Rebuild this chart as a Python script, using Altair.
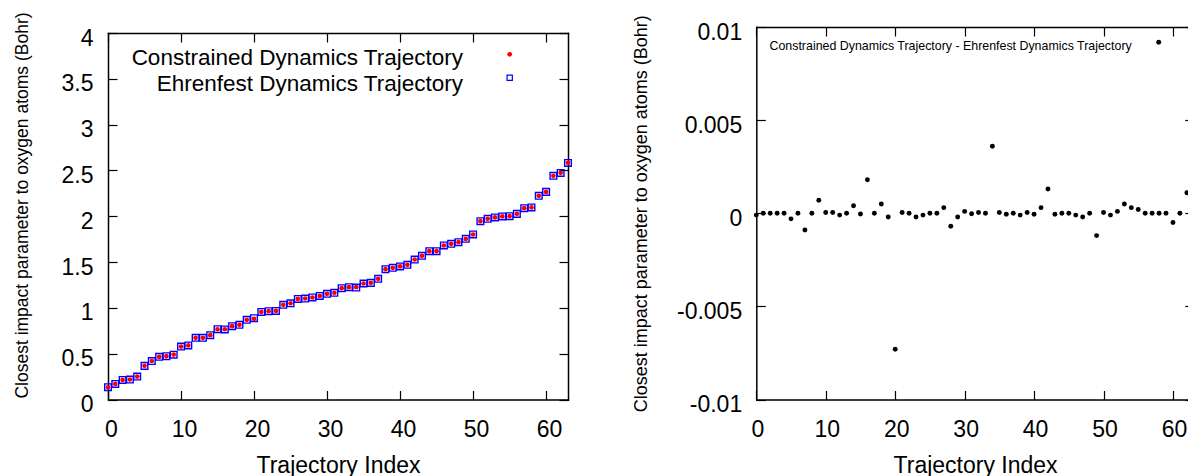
import altair as alt
import pandas as pd

# ---------------- data ----------------
trajectory_index = list(range(64))

constrained = [0.134, 0.170, 0.214, 0.218, 0.250, 0.367, 0.420, 0.465, 0.473, 0.490,
               0.578, 0.590, 0.673, 0.673, 0.702, 0.767, 0.767, 0.800, 0.815, 0.870,
               0.880, 0.956, 0.964, 0.967, 1.033, 1.050, 1.098, 1.102, 1.113, 1.130,
               1.153, 1.164, 1.215, 1.226, 1.226, 1.266, 1.273, 1.317, 1.422, 1.437,
               1.452, 1.470, 1.528, 1.568, 1.619, 1.619, 1.681, 1.699, 1.717, 1.753,
               1.801, 1.946, 1.972, 1.987, 1.998, 2.001, 2.026, 2.088, 2.096, 2.223,
               2.266, 2.441, 2.474, 2.583]

ehrenfest = [0.134, 0.170, 0.214, 0.218, 0.250, 0.367, 0.420, 0.466, 0.473, 0.489,
             0.578, 0.590, 0.673, 0.673, 0.702, 0.767, 0.765, 0.800, 0.815, 0.870,
             0.887, 0.956, 0.964, 0.967, 1.033, 1.050, 1.098, 1.102, 1.114, 1.130,
             1.153, 1.164, 1.215, 1.226, 1.222, 1.266, 1.273, 1.317, 1.422, 1.437,
             1.452, 1.470, 1.527, 1.568, 1.619, 1.619, 1.681, 1.699, 1.717, 1.754,
             1.801, 1.946, 1.972, 1.987, 1.998, 2.001, 2.026, 2.088, 2.096, 2.223,
             2.266, 2.441, 2.473, 2.582]

difference = [-0.0001, 0.0, 0.0, 0.0, 0.0, -0.0003, 0.0, -0.0009, 0.0, 0.0007,
              0.00004, 0.00004, -0.0001, 0.0, 0.0004, -0.00004, 0.0018, 0.0, 0.0005, -0.0002,
              -0.0073, 0.00004, 0.0, -0.0002, -0.0001, 0.0, 0.0, 0.0003, -0.0007, -0.0002,
              0.0001, -0.00003, 0.00004, 0.0, 0.0036, 0.00004, -0.00005, 0.0, -0.0001, 0.00004,
              -0.00005, 0.0003, 0.0013, -0.00005, 0.0, 0.0, -0.0001, -0.0002, 0.0, -0.0012,
              0.00004, -0.0001, 0.0001, 0.0005, 0.0003, 0.0002, 0.0, 0.0, 0.0, 0.0,
              -0.0005, 0.0, 0.0011, 0.0011]

x_ticks = [0, 10, 20, 30, 40, 50, 60]
left_y_ticks = [0, 0.5, 1, 1.5, 2, 2.5, 3, 3.5, 4]
right_y_ticks = [-0.01, -0.005, 0, 0.005, 0.01]

legend_left = ["Constrained Dynamics Trajectory", "Ehrenfest Dynamics Trajectory"]
legend_right = ["Constrained Dynamics Trajectory - Ehrenfest Dynamics Trajectory"]
y_title = "Closest impact parameter to oxygen atoms (Bohr)"
x_title = "Trajectory Index"

# ---------------- layout / style ----------------
FONT = "Liberation Sans"
W = 1080            # drawing area (both panels side by side); page width limits it
H = 372.5
L_X0, L_X1 = 0, 460          # left panel horizontal extent
L_TOP = 6                    # left panel frame top
R_X0, R_X1 = 648.3, 1085.8   # right panel horizontal extent (right edge runs off the page)
TICK = 9
FS_TICK = 23
RED = "#ff0000"
BLUE = "#0000ff"


def sx_left():
    return alt.Scale(domain=[0, 63], range=[L_X0, L_X1], nice=False, zero=False)


def sy_left():
    return alt.Scale(domain=[0, 4], range=[H, L_TOP], nice=False, zero=False)


def sx_right():
    return alt.Scale(domain=[0, 63], range=[R_X0, R_X1], nice=False, zero=False)


def sy_right():
    return alt.Scale(domain=[-0.01, 0.01], range=[H, 0], nice=False, zero=False)


def labeled_x(label_offset):
    return alt.Axis(orient="bottom", offset=0, values=x_ticks, labelExpr="'' + datum.value",
                    ticks=False, grid=False,
                    domain=True, domainColor="black", domainWidth=1.5, domainCap="square",
                    labelFont=FONT, labelFontSize=FS_TICK, labelColor="black", labelPadding=19,
                    labelOffset=label_offset, labelFlush=False, labelOverlap=False,
                    title=x_title, titleFont=FONT, titleFontSize=23, titleFontWeight="normal",
                    titleColor="black", titlePadding=13)


def labeled_y(values, offset, label_pad, title_pad, title_size, title_y=None):
    kw = {}
    if title_y is not None:
        kw["titleY"] = title_y
    return alt.Axis(orient="left", offset=offset, values=values, labelExpr="'' + datum.value",
                    ticks=False, grid=False,
                    domain=True, domainColor="black", domainWidth=1.5, domainCap="square",
                    labelFont=FONT, labelFontSize=FS_TICK, labelColor="black",
                    labelPadding=label_pad, labelOffset=5, labelOverlap=False,
                    title=y_title, titleFont=FONT, titleFontSize=title_size,
                    titleFontWeight="normal", titleColor="black", titlePadding=title_pad, **kw)


def inward(orient, offset, values, domain=False):
    return alt.Axis(orient=orient, offset=offset, values=values, labels=False, ticks=True,
                    tickSize=TICK, tickColor="black", tickWidth=1.2, grid=False,
                    domain=domain, domainColor="black", domainWidth=1.5, domainCap="square",
                    title=None)


# ---------------- left panel ----------------
df_left = pd.DataFrame({"idx": trajectory_index, "constrained": constrained, "ehrenfest": ehrenfest})
base1 = alt.Chart(df_left)

blue = base1.mark_point(shape="square", filled=False, color=BLUE, size=44, strokeWidth=1.4,
                        opacity=1).encode(
    x=alt.X("idx:Q", scale=sx_left(), axis=labeled_x(3)),
    y=alt.Y("ehrenfest:Q", scale=sy_left(),
            axis=labeled_y(left_y_ticks, 0, 15, 30, 17.5, title_y=178)),
)
red = base1.mark_circle(color=RED, size=22, opacity=1).encode(
    x=alt.X("idx:Q", scale=sx_left(), axis=inward("top", -H, x_ticks)),
    y=alt.Y("constrained:Q", scale=sy_left(), axis=inward("right", -(W - L_X0), left_y_ticks)),
)
ghost1 = base1.mark_point(opacity=0).encode(
    x=alt.X("idx:Q", scale=sx_left(), axis=inward("bottom", -(H - L_TOP), x_ticks, domain=True)),
    y=alt.Y("constrained:Q", scale=sy_left(), axis=inward("left", -L_X1, left_y_ticks, domain=True)),
)

leg_df1 = pd.DataFrame({"label": [legend_left[0]]})
leg_df2 = pd.DataFrame({"label": [legend_left[1]]})
leg_text1 = alt.Chart(leg_df1).mark_text(align="right", baseline="middle", font=FONT, fontSize=22.5,
                                         color="black").encode(
    text="label:N", x=alt.value(355), y=alt.value(31.3))
leg_text2 = alt.Chart(leg_df2).mark_text(align="right", baseline="middle", font=FONT, fontSize=22.5,
                                         color="black").encode(
    text="label:N", x=alt.value(355), y=alt.value(56.8))
leg_mark1 = alt.Chart(leg_df1).mark_circle(color=RED, size=22, opacity=1).encode(
    x=alt.value(401.7), y=alt.value(27.3))
leg_mark2 = alt.Chart(leg_df2).mark_point(shape="square", filled=False, color=BLUE, size=28,
                                          strokeWidth=1.2, opacity=1).encode(
    x=alt.value(401.7), y=alt.value(50.7))

# ---------------- right panel ----------------
df_right = pd.DataFrame({"idx": trajectory_index, "diff": difference})
base2 = alt.Chart(df_right)

dots = base2.mark_circle(color="black", size=24, opacity=1).encode(
    x=alt.X("idx:Q", scale=sx_right(), axis=labeled_x(1)),
    y=alt.Y("diff:Q", scale=sy_right(),
            axis=labeled_y(right_y_ticks, -R_X0, 14.6, 25.5, 18)),
)
ghost2a = base2.mark_point(opacity=0).encode(
    x=alt.X("idx:Q", scale=sx_right(), axis=inward("top", -H, x_ticks)),
    y=alt.Y("diff:Q", scale=sy_right(), axis=inward("right", -(W - R_X0), right_y_ticks)),
)
ghost2b = base2.mark_point(opacity=0).encode(
    x=alt.X("idx:Q", scale=sx_right(), axis=inward("bottom", -H, x_ticks, domain=True)),
    y=alt.Y("diff:Q", scale=sy_right(), axis=inward("left", -R_X1, right_y_ticks)),
)
leg_df3 = pd.DataFrame({"label": legend_right})
leg_text3 = alt.Chart(leg_df3).mark_text(align="right", baseline="middle", font=FONT, fontSize=12.4,
                                         color="black").encode(
    text="label:N", x=alt.value(1023.7), y=alt.value(18.7))
leg_mark3 = alt.Chart(leg_df3).mark_circle(color="black", size=24, opacity=1).encode(
    x=alt.value(1050.7), y=alt.value(15.3))

chart = alt.layer(
    blue, red, ghost1, leg_text1, leg_text2, leg_mark1, leg_mark2,
    dots, ghost2a, ghost2b, leg_text3, leg_mark3,
).resolve_scale(x="independent", y="independent").resolve_axis(
    x="independent", y="independent"
).properties(
    width=W, height=H,
    view=alt.ViewBackground(stroke="transparent", strokeWidth=0),
    autosize=alt.AutoSizeParams(type="none"),
    padding={"left": 100, "top": 19, "right": 0, "bottom": 77},
).configure_view(stroke="transparent", strokeWidth=0).configure(font=FONT)

chart.save("out.html", embed_options={"renderer": "svg", "actions": False})
